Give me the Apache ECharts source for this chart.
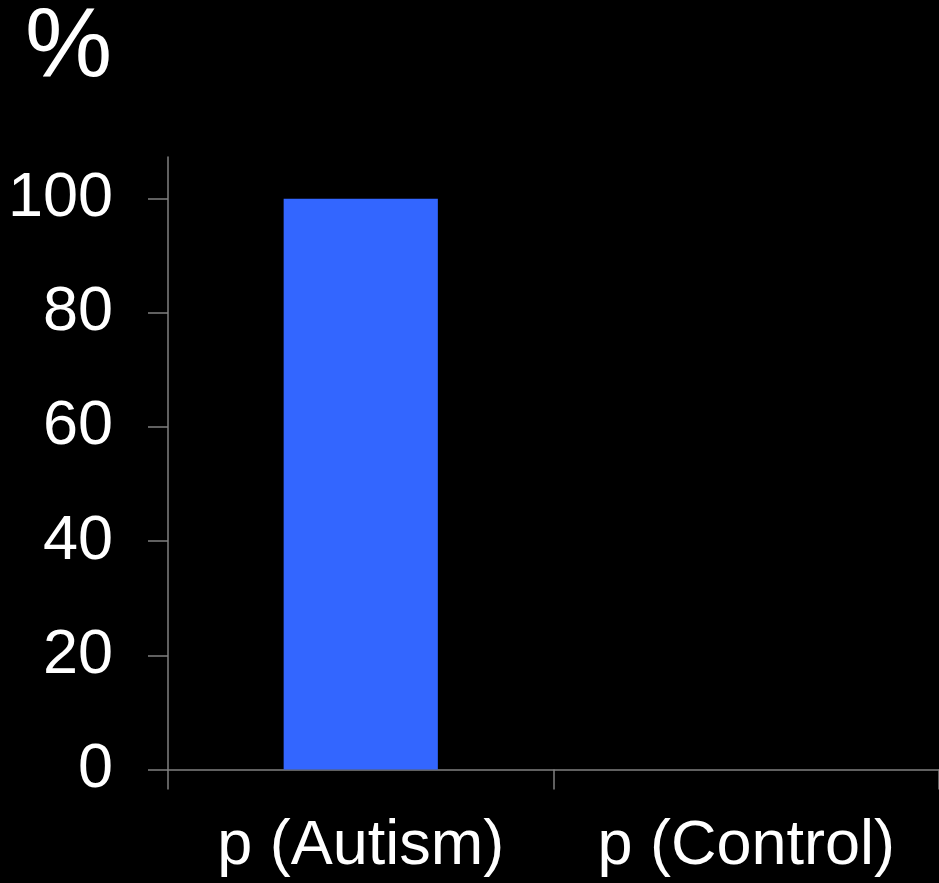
<!DOCTYPE html>
<html>
<head>
<meta charset="utf-8">
<script src="https://cdn.jsdelivr.net/npm/echarts@6/dist/echarts.min.js"></script>
<style>
html,body{margin:0;padding:0;background:#000;}
#chart{width:939px;height:883px;}
</style>
</head>
<body>
<div id="chart"></div>
<script>
const categories = ['p (Autism)', 'p (Control)'];
const values = [100, 0];
const yTicks = [0, 20, 40, 60, 80, 100];
const yAxisName = '%';

const chart = echarts.init(document.getElementById('chart'), null, {renderer: 'canvas'});
const axisColor = '#808080';
const font = '"Liberation Sans", Arial, sans-serif';
chart.setOption({
  backgroundColor: '#000000',
  animation: false,
  grid: {left: 168, right: -3, top: 156, bottom: 113.5, containLabel: false},
  xAxis: {
    type: 'category',
    data: categories,
    axisLine: {show: true, lineStyle: {color: axisColor, width: 1.5}},
    axisTick: {show: true, length: 20, alignWithLabel: false, lineStyle: {color: axisColor, width: 1.5}},
    axisLabel: {color: '#ffffff', fontSize: 63, fontFamily: font, margin: 46, interval: 0}
  },
  yAxis: {
    type: 'value',
    min: 0,
    max: 107.3,
    interval: 20,
    name: yAxisName,
    nameLocation: 'end',
    nameGap: 0,
    nameTextStyle: {color: '#ffffff', fontSize: 98, fontFamily: font, align: 'left', verticalAlign: 'top', padding: [-157, 0, 0, -143]},
    splitLine: {show: false},
    axisLine: {show: true, onZero: false, lineStyle: {color: axisColor, width: 1.5}},
    axisTick: {show: true, length: 20, customValues: yTicks, lineStyle: {color: axisColor, width: 1.5}},
    axisLabel: {color: '#ffffff', fontSize: 63, fontFamily: font, margin: 55, customValues: yTicks}
  },
  series: [{
    type: 'bar',
    data: values,
    barWidth: '40%',
    itemStyle: {color: '#3366FF'}
  }]
});
</script>
</body>
</html>
